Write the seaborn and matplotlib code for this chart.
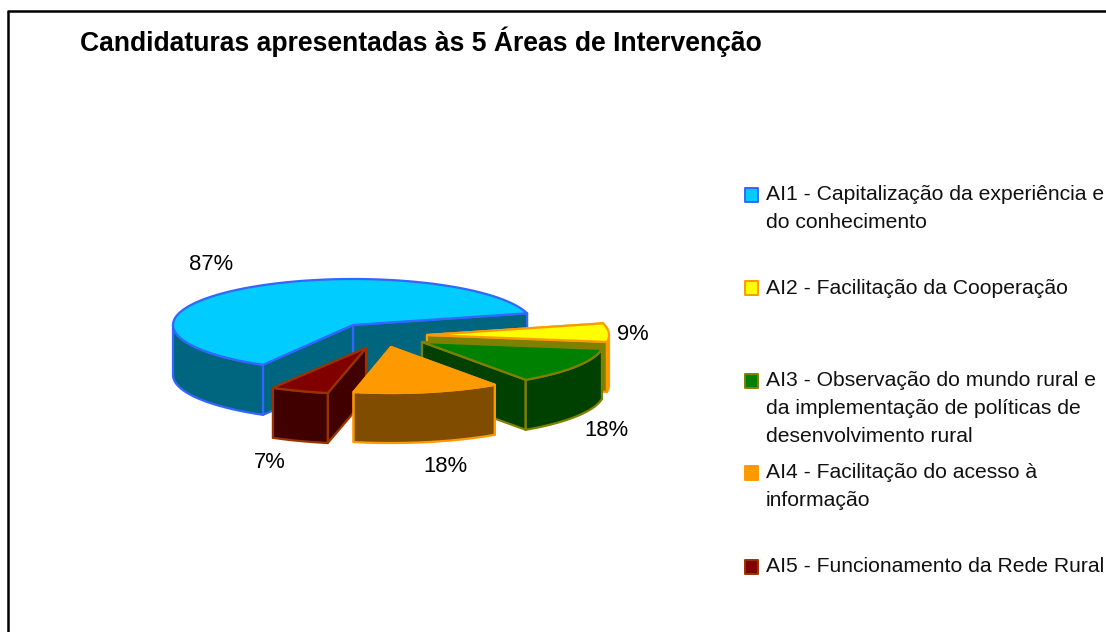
import numpy as np
import pandas as pd
import matplotlib
matplotlib.use("Agg")
import matplotlib.pyplot as plt
import seaborn as sns

# ---- data ----
areas = ["AI1", "AI2", "AI3", "AI4", "AI5"]
percent_values = [87, 9, 18, 18, 7]
percent_labels = ["87%", "9%", "18%", "18%", "7%"]
legend_labels = [
    "AI1 - Capitalização da experiência e\ndo conhecimento",
    "AI2 - Facilitação da Cooperação",
    "AI3 - Observação do mundo rural e\nda implementação de políticas de\ndesenvolvimento rural",
    "AI4 - Facilitação do acesso à\ninformação",
    "AI5 - Funcionamento da Rede Rural",
]
title_text = "Candidaturas apresentadas às 5 Áreas de Intervenção"

# ---- style ----
top_colors = ["#00CCFF", "#FFFF00", "#008000", "#FF9900", "#800000"]
wall_colors = ["#006680", "#808000", "#004000", "#804D00", "#400000"]
edge_colors = ["#3366FF", "#FF9900", "#808000", "#FF9900", "#993300"]
apex_x = [353, 427, 422, 391, 366]
apex_y = [325, 335, 342, 347, 348]
radius_x = [180, 182, 182, 182, 186]
label_x = [211, 633, 606, 445, 270]
label_y = [265, 334, 430, 466, 462]
legend_text_y = [209, 288, 409, 487, 567]
legend_mark_y = [195, 288, 381, 473, 567]
draw_order = [0, 1, 2, 4, 3]
RY = 46
DEPTH = 50
START = 240

sns.set_theme(style="white")
plt.rcParams["font.family"] = ["Liberation Sans", "DejaVu Sans"]

fig = plt.figure(figsize=(11.06, 6.32), dpi=100, facecolor="white")
ax = fig.add_axes([0, 0, 1, 1])
ax.set_xlim(0, 1106)
ax.set_ylim(632, 0)
ax.axis("off")

# frame (only left and top edges fall in the picture)
ax.plot([8, 8], [632, 11], color="black", lw=1.8, solid_capstyle="butt")
ax.plot([7.2, 1106], [11, 11], color="black", lw=1.8, solid_capstyle="butt")

ax.text(80, 42, title_text, fontsize=19.1, fontweight="bold", color="black",
        ha="left", va="center")

values = np.array(percent_values, dtype=float)
bounds = START - np.concatenate([[0], np.cumsum(values)]) / values.sum() * 360

LW = 1.6
for i in draw_order:
    a0, a1 = bounds[i], bounds[i + 1]
    th = np.radians(np.linspace(a0, a1, 240))
    cx, cy, rx = apex_x[i], apex_y[i], radius_x[i]
    xs = cx + rx * np.cos(th)
    ys = cy - RY * np.sin(th)
    z = 2 + draw_order.index(i)
    style = dict(facecolor=wall_colors[i], edgecolor=edge_colors[i], lw=LW,
                 joinstyle="round", zorder=z)
    # radial walls, the one nearer the viewer last
    ends = sorted([(xs[0], ys[0]), (xs[-1], ys[-1])], key=lambda p: p[1])
    for ex, ey in ends:
        ax.fill([cx, ex, ex, cx], [cy, ey, ey + DEPTH, cy + DEPTH], **style)
    # outer wall: only the front part of the arc
    front = np.sin(th) <= 0
    if front.sum() > 1:
        fx, fy = xs[front], ys[front]
        ax.fill(np.r_[fx, fx[::-1]], np.r_[fy, fy[::-1] + DEPTH], **style)
    # top face
    ax.fill(np.r_[cx, xs], np.r_[cy, ys], facecolor=top_colors[i],
            edgecolor=edge_colors[i], lw=LW, joinstyle="round", zorder=z + 0.5)

for lx, ly, t in zip(label_x, label_y, percent_labels):
    ax.text(lx, ly, t, fontsize=15.8, color="black", ha="center", va="center", zorder=20)

# legend
legend_df = pd.DataFrame({"area": areas, "x": [751.5] * 5, "y": legend_mark_y})
sns.scatterplot(data=legend_df, x="x", y="y", hue="area", hue_order=areas,
                palette=top_colors, marker="s", s=95, linewidth=1.4,
                edgecolor=edge_colors, legend=False, ax=ax, zorder=20, clip_on=False)
ax.set_xlim(0, 1106)
ax.set_ylim(632, 0)
ax.axis("off")

for ty, t in zip(legend_text_y, legend_labels):
    ax.text(766, ty, t, fontsize=15.2, color="#111111", ha="left", va="center",
            linespacing=1.6, zorder=20)

fig.savefig("out.png", dpi=100, facecolor="white")
